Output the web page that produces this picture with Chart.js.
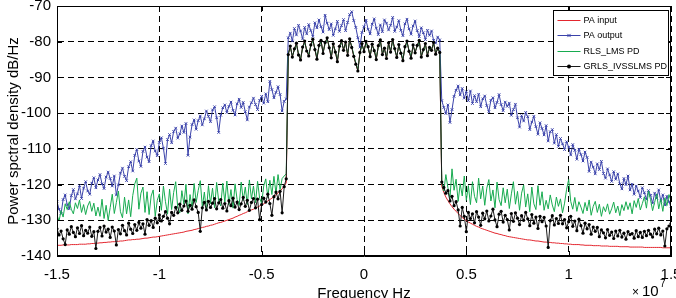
<!DOCTYPE html>
<html>
<head>
<meta charset="utf-8">
<script src="https://cdn.jsdelivr.net/npm/chart.js@4/dist/chart.umd.min.js"></script>
<style>
  html, body { margin: 0; padding: 0; background: #fff; overflow: hidden; }
  #psd { display: block; }
</style>
</head>
<body>
<canvas id="psd" width="676" height="298"></canvas>
<script>
// ----------------------------------------
// PSD of PA input / output and the two predistorters
// bins: -15 MHz .. +15 MHz, 100 kHz apart (301 bins)
// ----------------------------------------
const freqStartHz = -1.5e7;
const freqStepHz = 1e5;

const xTicks = [-1.5, -1, -0.5, 0, 0.5, 1, 1.5];          // x 1e7 Hz
const yTicks = [-140, -130, -120, -110, -100, -90, -80, -70];

const seriesNames = ['PA input', 'PA output', 'RLS_LMS PD', 'GRLS_IVSSLMS PD'];

// PA input (dB/Hz)
const paInput = [
  -137.0,-137.0,-137.0,-136.9,-136.9,-136.9,-136.9,-136.8,-136.8,-136.8,
  -136.8,-136.7,-136.7,-136.7,-136.7,-136.6,-136.6,-136.5,-136.5,-136.4,
  -136.4,-136.3,-136.3,-136.2,-136.2,-136.1,-136.1,-136.0,-136.0,-135.9,
  -135.9,-135.8,-135.8,-135.7,-135.6,-135.5,-135.5,-135.4,-135.4,-135.3,
  -135.3,-135.2,-135.1,-135.0,-135.0,-134.9,-134.8,-134.7,-134.7,-134.6,
  -134.5,-134.4,-134.3,-134.2,-134.1,-134.0,-133.9,-133.8,-133.7,-133.6,
  -133.5,-133.4,-133.3,-133.1,-133.0,-132.9,-132.8,-132.6,-132.5,-132.3,
  -132.2,-132.0,-131.9,-131.7,-131.6,-131.4,-131.3,-131.1,-130.9,-130.7,
  -130.6,-130.4,-130.2,-130.0,-129.8,-129.6,-129.4,-129.1,-128.9,-128.6,
  -128.4,-128.1,-127.9,-127.6,-127.4,-127.1,-126.9,-126.6,-126.3,-126.0,
  -125.7,-125.4,-125.0,-124.6,-124.2,-123.8,-123.4,-122.9,-122.4,-121.8,
  -121.2,-120.4,-119.5,
  -83.5,-81.3,-84.2,-82.1,-80.5,-83.6,-85.0,-81.6,-79.9,-82.5,
  -83.9,-81.0,-79.4,-82.1,-84.8,-81.1,-79.7,-83.2,-80.3,-79.0,
  -81.6,-84.4,-80.7,-82.8,-85.5,-81.4,-79.8,-82.3,-80.2,-83.7,
  -79.3,-81.5,-84.0,-86.2,-88.1,-83.1,-80.6,-82.7,-80.0,-81.5,
  -84.1,-80.8,-82.4,-84.9,-81.2,-79.6,-83.5,-81.9,-84.6,-80.4,
  -82.8,-79.5,-82.0,-84.3,-80.9,-83.1,-85.2,-81.5,-79.9,-82.6,
  -84.5,-81.0,-83.0,-81.1,-79.7,-84.2,-82.3,-80.6,-83.8,-81.7,
  -82.3,-80.3,-83.4,-81.9,-82.9,
  -120.5,-122.2,-123.5,-124.5,-125.4,-126.2,-126.9,-127.5,-128.1,-128.7,
  -129.2,-129.7,-130.1,-130.5,-130.8,-131.1,-131.4,-131.7,-131.9,-132.2,
  -132.4,-132.6,-132.8,-133.0,-133.2,-133.4,-133.6,-133.7,-133.9,-134.0,
  -134.2,-134.3,-134.5,-134.6,-134.7,-134.8,-134.9,-135.0,-135.1,-135.2,
  -135.3,-135.4,-135.5,-135.5,-135.6,-135.7,-135.8,-135.8,-135.9,-136.0,
  -136.1,-136.1,-136.2,-136.2,-136.3,-136.3,-136.4,-136.4,-136.5,-136.5,
  -136.6,-136.6,-136.7,-136.7,-136.8,-136.8,-136.8,-136.8,-136.9,-136.9,
  -137.0,-137.0,-137.0,-137.0,-137.1,-137.1,-137.1,-137.1,-137.2,-137.2,
  -137.2,-137.2,-137.3,-137.3,-137.3,-137.3,-137.3,-137.4,-137.4,-137.4,
  -137.4,-137.4,-137.5,-137.5,-137.5,-137.5,-137.5,-137.5,-137.5,-137.6,
  -137.6,-137.6,-137.6,-137.6,-137.6,-137.6,-137.6,-137.6,-137.7,-137.7,
  -137.7,-137.7,-137.7
];

// PA output (dB/Hz)
const paOutput = [
  -124.8,-126.9,-128.1,-124.2,-122.9,-125.6,-126.8,-123.1,-121.4,-124.0,
  -122.6,-120.3,-123.9,-121.0,-119.2,-121.8,-122.7,-119.6,-118.1,-120.9,
  -118.7,-117.2,-119.8,-121.1,-117.9,-116.5,-118.3,-120.4,-117.6,-122.9,
  -120.1,-116.8,-115.4,-117.7,-118.9,-115.0,-113.6,-116.2,-111.8,-110.2,
  -113.4,-114.9,-110.7,-109.5,-112.3,-113.6,-109.1,-107.8,-110.6,-111.9,
  -108.2,-106.9,-109.8,-114.1,-107.4,-106.0,-108.3,-105.1,-104.2,-107.0,
  -105.8,-103.6,-105.4,-102.9,-111.8,-106.7,-103.2,-101.9,-104.5,-102.1,
  -100.8,-103.3,-101.6,-99.4,-100.9,-102.4,-99.1,-98.2,-101.3,-105.4,
  -100.6,-98.5,-97.7,-99.8,-98.1,-96.9,-99.2,-100.5,-97.4,-96.1,
  -98.4,-97.0,-99.6,-101.9,-98.3,-97.1,-95.8,-97.6,-99.0,-96.4,
  -95.3,-97.2,-94.6,-96.8,-91.1,-93.4,-95.7,-94.2,-92.6,-94.8,
  -99.4,-96.7,-96.0,
  -78.9,-77.6,-79.8,-76.3,-78.1,-75.4,-77.0,-79.2,-76.0,-77.8,
  -75.2,-76.9,-78.5,-74.7,-76.1,-73.9,-75.8,-77.3,-72.6,-74.8,
  -76.6,-75.0,-78.2,-76.4,-74.3,-77.1,-75.5,-73.8,-76.9,-74.6,
  -72.4,-71.6,-74.1,-76.0,-78.9,-81.5,-77.4,-75.8,-74.0,-76.5,
  -77.8,-75.1,-73.6,-76.2,-78.0,-75.3,-77.2,-73.9,-74.8,-76.7,
  -75.4,-73.2,-77.1,-75.9,-74.1,-76.8,-78.3,-75.0,-73.7,-76.4,
  -77.9,-75.6,-74.2,-76.9,-78.6,-76.1,-77.5,-79.4,-76.8,-78.2,
  -77.0,-79.6,-80.4,-78.7,-79.5,
  -96.5,-98.4,-100.1,-97.7,-102.6,-99.0,-95.3,-93.6,-92.4,-94.9,
  -93.1,-95.8,-94.0,-96.5,-93.8,-97.3,-95.1,-96.8,-94.7,-98.2,
  -96.0,-95.2,-97.9,-99.6,-96.4,-95.7,-98.5,-97.0,-94.8,-97.6,
  -99.3,-96.9,-98.1,-97.2,-100.6,-99.0,-97.5,-101.3,-103.9,-100.7,
  -102.2,-99.8,-101.0,-104.6,-102.5,-100.9,-103.8,-105.9,-102.7,-104.3,
  -106.1,-103.5,-107.8,-105.2,-104.6,-108.4,-106.0,-109.3,-107.1,-108.6,
  -110.2,-108.0,-109.5,-111.7,-108.8,-110.4,-112.9,-110.1,-111.6,-113.4,
  -110.9,-112.4,-116.3,-113.7,-115.1,-117.0,-114.2,-115.8,-113.5,-116.9,
  -118.2,-115.6,-117.3,-119.1,-116.4,-118.5,-117.0,-119.8,-121.2,-118.3,
  -120.0,-117.6,-121.5,-119.9,-122.7,-120.4,-121.8,-123.6,-120.9,-122.3,
  -124.1,-121.7,-123.0,-125.2,-122.4,-123.8,-121.5,-124.6,-122.9,-125.7,
  -123.3,-124.8,-126.2
];

// RLS_LMS predistorter (dB/Hz)
const rlsLms = [
  -128.6,-130.2,-127.3,-129.1,-125.4,-127.0,-124.8,-126.9,-128.2,-125.1,
  -126.7,-124.3,-127.8,-125.6,-128.4,-126.0,-124.7,-127.5,-125.2,-128.8,
  -126.3,-128.9,-124.1,-129.5,-125.8,-130.0,-126.4,-122.7,-128.1,-125.0,
  -121.8,-127.6,-129.3,-123.5,-128.2,-124.3,-129.0,-123.1,-119.8,-118.2,
  -126.9,-122.4,-120.7,-127.8,-122.0,-128.4,-123.2,-121.5,-128.9,-124.4,
  -122.6,-127.2,-120.4,-124.8,-128.3,-121.3,-127.0,-122.2,-119.2,-126.6,
  -127.9,-121.7,-125.5,-119.9,-128.2,-122.8,-126.7,-119.7,-125.0,-121.6,
  -118.9,-126.3,-122.1,-127.4,-120.3,-125.3,-121.0,-126.5,-119.4,-124.6,
  -126.0,-119.6,-124.9,-119.0,-125.7,-121.4,-126.6,-119.8,-124.2,-125.9,
  -119.3,-124.5,-120.7,-125.6,-118.7,-124.0,-120.4,-125.1,-119.1,-123.8,
  -125.3,-120.4,-118.4,-123.6,-118.8,-122.8,-117.7,-122.5,-117.2,-121.4,
  -118.3,-117.6,-117.0,
  -83.2,-81.6,-83.9,-82.4,-80.8,-83.3,-84.7,-81.9,-80.2,-82.2,
  -83.6,-81.3,-79.7,-81.8,-84.5,-81.4,-80.0,-82.9,-80.6,-79.3,
  -81.3,-84.1,-81.0,-82.5,-85.2,-81.7,-80.1,-82.0,-80.5,-83.4,
  -79.6,-81.2,-83.7,-85.9,-87.8,-83.4,-80.9,-82.4,-80.3,-81.8,
  -83.8,-81.1,-82.1,-84.6,-81.5,-79.9,-83.2,-82.2,-84.3,-80.7,
  -82.5,-79.8,-82.3,-84.0,-81.2,-82.8,-84.9,-81.8,-80.2,-82.3,
  -84.2,-81.3,-82.7,-81.4,-80.0,-83.9,-82.6,-80.9,-83.5,-82.0,
  -82.0,-80.6,-83.1,-82.2,-82.6,
  -119.4,-121.8,-117.2,-120.9,-123.8,-115.6,-121.6,-118.5,-124.7,-119.8,
  -123.2,-117.6,-124.4,-120.3,-125.6,-119.2,-123.3,-125.1,-118.2,-124.0,
  -120.4,-125.8,-121.0,-118.6,-124.6,-121.5,-126.5,-119.3,-124.2,-125.9,
  -120.9,-125.1,-121.3,-126.7,-122.6,-119.2,-125.5,-121.9,-127.2,-122.4,
  -120.1,-126.3,-122.6,-127.6,-120.7,-125.4,-127.0,-120.3,-125.8,-122.0,
  -127.2,-124.4,-126.8,-122.9,-125.7,-127.6,-123.5,-126.1,-124.0,-127.9,
  -125.2,-121.3,-118.6,-124.7,-126.9,-123.6,-127.5,-124.8,-126.3,-128.1,
  -125.0,-127.4,-124.3,-128.6,-126.1,-124.7,-127.8,-125.5,-128.9,-126.2,
  -127.6,-125.4,-128.3,-126.8,-124.9,-127.9,-126.0,-128.7,-125.6,-127.3,
  -124.8,-127.0,-125.1,-128.2,-124.5,-126.4,-123.9,-127.1,-125.3,-123.4,
  -126.6,-121.8,-124.2,-127.3,-125.0,-122.6,-126.8,-124.1,-127.5,-123.7,
  -125.9,-122.8,-124.6
];

// GRLS_IVSSLMS predistorter (dB/Hz)
const grlsIvsslms = [
  -132.4,-134.1,-133.0,-135.2,-136.8,-132.7,-133.9,-131.8,-133.4,-134.6,
  -132.1,-133.7,-131.5,-134.3,-132.8,-133.6,-131.9,-134.5,-133.2,-137.9,
  -133.1,-132.0,-134.4,-131.6,-133.3,-132.5,-134.8,-131.9,-133.0,-136.9,
  -132.6,-133.8,-131.4,-132.9,-134.1,-130.8,-132.5,-133.7,-131.2,-132.8,
  -130.6,-132.2,-131.0,-133.9,-129.8,-131.4,-130.1,-132.0,-129.4,-130.7,
  -128.5,-130.2,-128.9,-127.6,-129.4,-131.0,-127.8,-128.6,-126.4,-127.9,
  -125.5,-127.2,-126.0,-124.6,-127.5,-125.8,-126.9,-124.3,-126.2,-127.8,
  -133.1,-126.5,-125.0,-127.1,-124.7,-126.4,-125.2,-123.9,-126.8,-125.1,
  -124.2,-126.6,-125.3,-127.4,-124.5,-125.9,-123.8,-126.3,-124.9,-127.0,
  -125.4,-123.6,-126.1,-124.4,-127.2,-125.0,-123.9,-126.5,-124.1,-129.8,
  -125.6,-123.8,-124.9,-122.7,-125.3,-128.6,-123.4,-122.1,-124.0,-121.9,
  -127.9,-120.6,-118.4,
  -83.6,-81.2,-84.3,-82.0,-80.4,-83.7,-85.1,-81.5,-79.8,-82.6,
  -84.0,-80.9,-79.3,-82.2,-84.9,-81.0,-79.6,-83.3,-80.2,-78.9,
  -81.7,-84.5,-80.6,-82.9,-85.6,-81.3,-79.7,-82.4,-80.1,-83.8,
  -79.2,-81.6,-84.1,-86.3,-88.2,-83.0,-80.5,-82.8,-79.9,-81.4,
  -84.2,-80.7,-82.5,-85.0,-81.1,-79.5,-83.6,-81.8,-84.7,-80.3,
  -82.9,-79.4,-81.9,-84.4,-80.8,-83.2,-85.3,-81.4,-79.8,-82.7,
  -84.6,-80.9,-83.1,-81.0,-79.6,-84.3,-82.2,-80.5,-83.9,-81.6,
  -82.4,-80.2,-83.5,-81.8,-83.0,
  -119.3,-120.8,-122.4,-121.7,-124.6,-123.3,-125.9,-124.8,-127.1,-131.6,
  -126.4,-128.9,-133.2,-127.8,-129.5,-128.2,-130.7,-127.6,-129.1,-131.4,
  -128.0,-129.6,-127.4,-130.2,-128.8,-126.9,-129.9,-131.8,-128.3,-127.5,
  -130.5,-128.6,-129.8,-132.7,-128.1,-130.3,-127.9,-129.4,-131.2,-128.7,
  -130.0,-127.8,-129.6,-131.5,-128.4,-130.8,-129.1,-132.3,-128.9,-130.4,
  -129.2,-131.6,-137.6,-130.1,-128.7,-131.3,-129.5,-130.9,-128.6,-131.0,
  -129.8,-132.1,-130.4,-128.9,-131.7,-130.2,-132.9,-129.7,-131.5,-133.6,
  -130.8,-132.4,-131.2,-133.9,-131.9,-133.1,-132.0,-134.6,-132.7,-133.5,
  -134.9,-132.6,-134.2,-133.3,-135.1,-133.0,-134.4,-132.8,-134.7,-133.6,
  -135.3,-133.2,-134.0,-133.7,-135.0,-132.9,-134.6,-133.4,-134.8,-133.1,
  -134.3,-132.8,-133.9,-134.7,-132.5,-133.8,-132.2,-134.1,-133.0,-137.2,
  -132.4,-131.6,-130.9
];

const freqHz = paInput.map((_, i) => freqStartHz + i * freqStepHz);
const toPoints = vals => vals.map((v, i) => ({ x: freqHz[i], y: v }));

const FONT = "'Liberation Sans', Arial, Helvetica, sans-serif";
const colors = ['#e3262e', '#3a42aa', '#17ab4f', '#000000'];

// frame, inward ticks, legend and the x10^7 exponent, matlab style
const matlabFrame = {
    id: 'matlabFrame',
    afterDatasetsDraw(chart) {
        const { ctx, chartArea: a, scales: { x, y } } = chart;
        ctx.save();
        ctx.strokeStyle = '#000';
        ctx.lineWidth = 1;
        ctx.setLineDash([]);

        ctx.beginPath();
        xTicks.forEach(t => {
            const px = Math.round(x.getPixelForValue(t * 1e7)) + 0.5;
            ctx.moveTo(px, a.top); ctx.lineTo(px, a.top + 5);
            ctx.moveTo(px, a.bottom); ctx.lineTo(px, a.bottom - 5);
        });
        yTicks.forEach(t => {
            const py = Math.round(y.getPixelForValue(t)) + 0.5;
            ctx.moveTo(a.left, py); ctx.lineTo(a.left + 5, py);
            ctx.moveTo(a.right, py); ctx.lineTo(a.right - 5, py);
        });
        ctx.stroke();
        ctx.strokeRect(Math.round(a.left) + 0.5, Math.round(a.top) + 0.5,
                       Math.round(a.right - a.left) - 1, Math.round(a.bottom - a.top) - 1);

        // legend box
        const bw = 115, bh = 65;
        const bx = Math.round(a.right) - 3 - bw + 0.5;
        const by = Math.round(a.top) + 4 + 0.5;
        ctx.fillStyle = '#fff';
        ctx.fillRect(bx, by, bw, bh);
        ctx.strokeRect(bx, by, bw, bh);
        ctx.font = '9px ' + FONT;
        ctx.textBaseline = 'middle';
        chart.data.datasets.forEach((ds, k) => {
            const ly = Math.round(by + 9 + k * 15.6) + 0.5;
            ctx.strokeStyle = ds.borderColor;
            ctx.beginPath();
            ctx.moveTo(bx + 4, ly); ctx.lineTo(bx + 27, ly);
            ctx.stroke();
            const mx = bx + 15.5;
            if (ds.pointStyle === 'crossRot') {
                ctx.beginPath();
                ctx.moveTo(mx - 1.6, ly - 1.6); ctx.lineTo(mx + 1.6, ly + 1.6);
                ctx.moveTo(mx - 1.6, ly + 1.6); ctx.lineTo(mx + 1.6, ly - 1.6);
                ctx.stroke();
            } else if (ds.pointRadius > 0) {
                ctx.fillStyle = '#000';
                ctx.beginPath();
                ctx.arc(mx, ly, 2, 0, Math.PI * 2);
                ctx.fill();
            }
            ctx.fillStyle = '#000';
            ctx.fillText(ds.label, bx + 30, ly + 0.5);
        });

        // axis exponent
        ctx.fillStyle = '#000';
        ctx.textBaseline = 'alphabetic';
        ctx.font = '12px ' + FONT;
        ctx.fillText('\u00d7', a.right - 39, 296);
        ctx.font = '15px ' + FONT;
        ctx.fillText('10', a.right - 29, 296);
        ctx.font = '10px ' + FONT;
        ctx.fillText('7', a.right - 11, 287);
        ctx.restore();
    }
};

const gridLine = { color: '#000', lineWidth: 1, drawTicks: false };

new Chart(document.getElementById('psd'), {
    type: 'line',
    data: {
        datasets: [
            {
                label: seriesNames[0],
                data: toPoints(paInput),
                borderColor: colors[0],
                borderWidth: 1,
                pointRadius: 0,
                order: 4
            },
            {
                label: seriesNames[1],
                data: toPoints(paOutput),
                borderColor: colors[1],
                borderWidth: 1,
                pointStyle: 'crossRot',
                pointRadius: 1.8,
                pointBorderWidth: 1,
                pointBorderColor: colors[1],
                order: 3
            },
            {
                label: seriesNames[2],
                data: toPoints(rlsLms),
                borderColor: colors[2],
                borderWidth: 1,
                pointRadius: 0,
                order: 2
            },
            {
                label: seriesNames[3],
                data: toPoints(grlsIvsslms),
                borderColor: '#1a1a1a',
                borderWidth: 1,
                pointStyle: 'circle',
                pointRadius: 1.6,
                pointBorderWidth: 0,
                pointBackgroundColor: '#000',
                order: 1
            }
        ]
    },
    options: {
        responsive: false,
        animation: false,
        events: [],
        layout: { padding: { top: 6, right: 5, bottom: 0, left: 0 } },
        elements: { line: { tension: 0 } },
        plugins: {
            legend: { display: false },
            tooltip: { enabled: false }
        },
        scales: {
            x: {
                type: 'linear',
                min: -1.5e7,
                max: 1.5e7,
                afterBuildTicks: s => { s.ticks = xTicks.map(v => ({ value: v * 1e7 })); },
                afterFit: s => { s.height = 42; s.paddingLeft = 0; s.paddingRight = 0; },
                ticks: {
                    color: '#000',
                    font: { family: FONT, size: 15 },
                    padding: 10,
                    maxRotation: 0,
                    autoSkip: false,
                    callback: v => String(Math.round(v / 1e6) / 10)
                },
                grid: gridLine,
                border: { display: true, color: '#000', dash: [6, 4] },
                title: {
                    display: true,
                    text: 'Frequency Hz',
                    color: '#000',
                    font: { family: FONT, size: 15 },
                    padding: { top: 0, bottom: -5 }
                }
            },
            y: {
                min: -140,
                max: -70,
                afterBuildTicks: s => { s.ticks = yTicks.map(v => ({ value: v })); },
                afterFit: s => { s.width = 57; s.paddingTop = 0; s.paddingBottom = 0; },
                ticks: {
                    color: '#000',
                    font: { family: FONT, size: 15 },
                    padding: 6
                },
                grid: gridLine,
                border: { display: true, color: '#000', dash: [6, 4] },
                title: {
                    display: true,
                    text: 'Power spctral density dB/Hz',
                    color: '#000',
                    font: { family: FONT, size: 15 },
                    padding: { top: 5, bottom: 0 }
                }
            }
        }
    },
    plugins: [matlabFrame]
});
</script>
</body>
</html>
